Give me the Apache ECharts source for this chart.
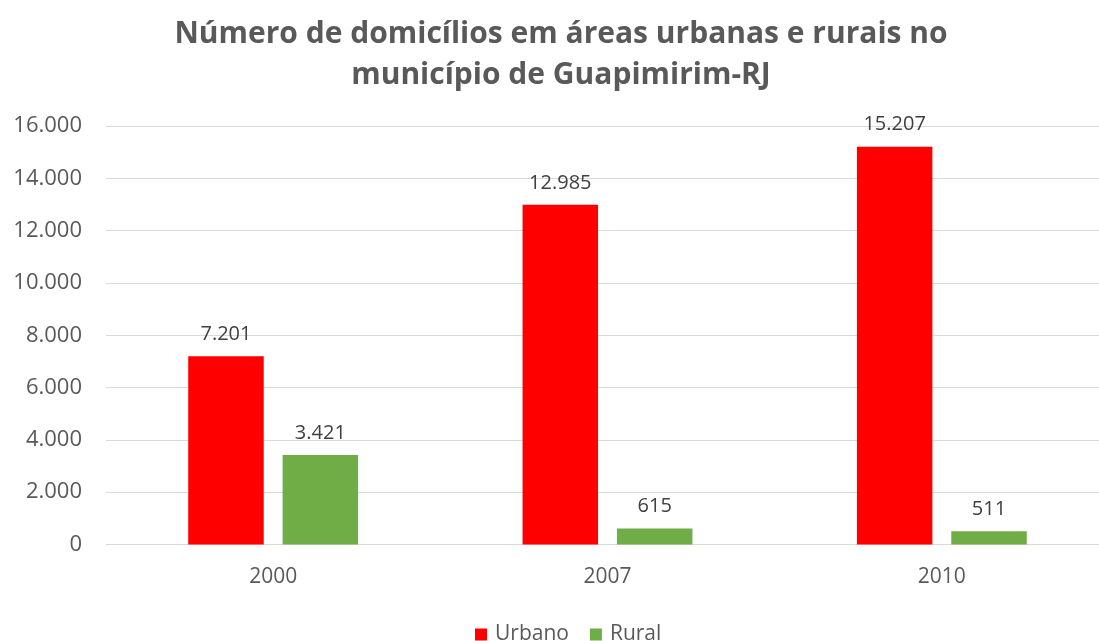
<!DOCTYPE html>
<html>
<head>
<meta charset="utf-8">
<script src="https://cdn.jsdelivr.net/npm/echarts@6/dist/echarts.min.js"></script>
<style>html,body{margin:0;padding:0;background:#fff;}#c{width:1099px;height:641px;}</style>
</head>
<body>
<div id="c"></div>
<script>
const categories = ['2000', '2007', '2010'];
const urbano = [7201, 12985, 15207];
const rural = [3421, 615, 511];
const seriesNames = ['Urbano', 'Rural'];
const titleText = 'Número de domicílios em áreas urbanas e rurais no\nmunicípio de Guapimirim-RJ';

function fmt(v) {
  return String(v).replace(/\B(?=(\d{3})+(?!\d))/g, '.');
}
const FONT = '"Open Sans", sans-serif';
const TXT = '#595959';

const chart = echarts.init(document.getElementById('c'), null, {renderer: 'canvas'});
chart.setOption({
  animation: false,
  backgroundColor: '#ffffff',
  textStyle: {fontFamily: FONT},
  title: {
    text: titleText,
    left: 561,
    top: 14,
    padding: 0,
    textAlign: 'center',
    textStyle: {fontFamily: FONT, fontSize: 30, fontWeight: 'bold', color: TXT, lineHeight: 41}
  },
  legend: {
    data: seriesNames,
    left: 475,
    top: 624,
    padding: 0,
    itemWidth: 12,
    itemHeight: 12,
    itemGap: 21,
    icon: 'rect',
    textStyle: {fontFamily: FONT, fontSize: 21, lineHeight: 20, color: TXT, padding: [0, 0, 0, 3]}
  },
  grid: {left: 106, width: 1003, top: 126, bottom: 96.5, containLabel: false, outerBoundsMode: 'none'},
  xAxis: {
    type: 'category',
    data: categories,
    axisTick: {show: false},
    axisLine: {show: true, lineStyle: {color: '#d9d9d9', width: 1}},
    axisLabel: {margin: 22, fontSize: 21, color: TXT, fontFamily: FONT}
  },
  yAxis: {
    type: 'value',
    min: 0,
    max: 16000,
    interval: 2000,
    axisLine: {show: false},
    axisTick: {show: false},
    splitLine: {lineStyle: {color: '#d9d9d9', width: 1}},
    axisLabel: {margin: 24, fontSize: 22, color: TXT, fontFamily: FONT, formatter: fmt}
  },
  series: [
    {
      name: seriesNames[0],
      type: 'bar',
      data: urbano,
      barWidth: 75.5,
      barGap: '25%',
      itemStyle: {color: '#ff0000'},
      label: {show: true, position: 'top', distance: 12, fontSize: 20, color: '#404040', fontFamily: FONT, formatter: p => fmt(p.value)}
    },
    {
      name: seriesNames[1],
      type: 'bar',
      data: rural,
      barWidth: 75.5,
      barGap: '25%',
      itemStyle: {color: '#70ad47'},
      label: {show: true, position: 'top', distance: 12, fontSize: 20, color: '#404040', fontFamily: FONT, formatter: p => fmt(p.value)}
    }
  ]
});
</script>
</body>
</html>
